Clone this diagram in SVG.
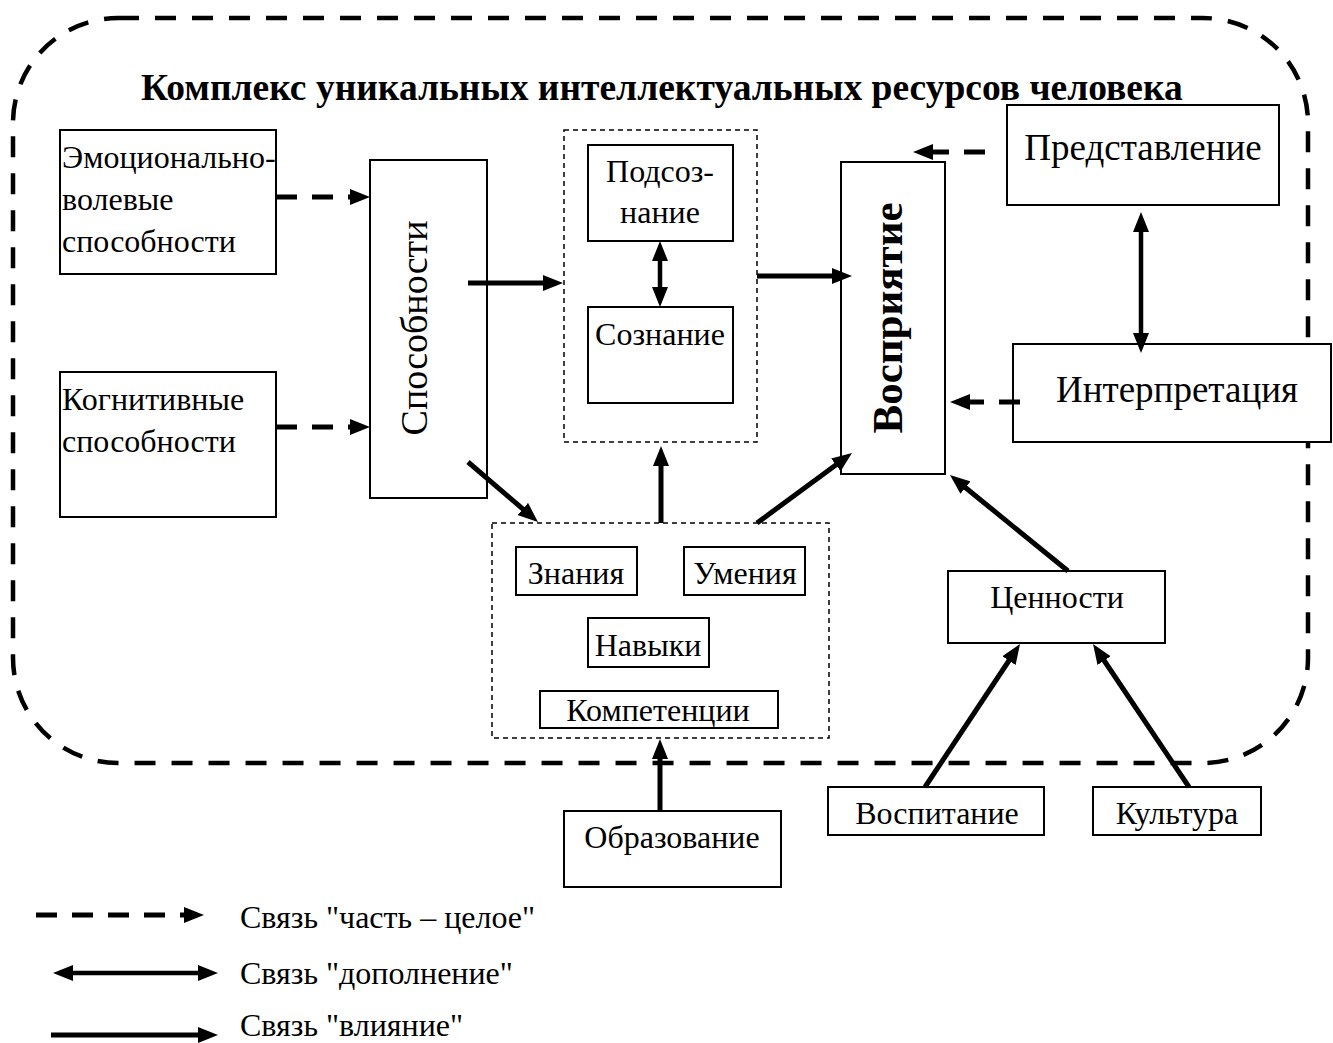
<svg xmlns="http://www.w3.org/2000/svg" width="1333" height="1043" viewBox="0 0 1333 1043">
<style>
  text { font-family: "Liberation Serif", "Times New Roman", serif; fill: #000; }
  .t { font-size: 32px; }
  .tc { font-size: 32px; text-anchor: middle; }
  .tb { font-size: 37px; text-anchor: middle; }
  .box { fill: #fff; stroke: #000; stroke-width: 2; }
  .grp { fill: none; stroke: #000; stroke-width: 1.5; stroke-dasharray: 5 4; }
  .border { fill: none; stroke: #000; stroke-width: 4.5; stroke-dasharray: 21 16; }
  .sol { fill: none; stroke: #000; stroke-width: 5; marker-end: url(#ah); }
  .dsh { fill: none; stroke: #000; stroke-width: 5; stroke-dasharray: 21 15; marker-end: url(#ah); }
  .dbl { fill: none; stroke: #000; stroke-width: 4.5; marker-start: url(#ah); marker-end: url(#ah); }
</style>
<defs>
  <marker id="ah" viewBox="0 0 20 16" refX="5" refY="8" markerWidth="20" markerHeight="16" markerUnits="userSpaceOnUse" orient="auto-start-reverse">
    <path d="M0,0 L20,8 L0,16 Z" fill="#000"/>
  </marker>
</defs>
<rect width="1333" height="1043" fill="#fff"/>

<g id="border">
  <rect class="border" x="13" y="18" width="1295" height="745" rx="105" ry="105"/>
</g>

<g id="title">
  <text x="141" y="100" style="font-size:37.5px;font-weight:bold">Комплекс уникальных интеллектуальных ресурсов человека</text>
</g>

<g id="emo">
  <rect class="box" x="60" y="130" width="216" height="144"/>
  <text class="t" x="62" y="168">Эмоционально-</text>
  <text class="t" x="62" y="210">волевые</text>
  <text class="t" x="62" y="252">способности</text>
</g>

<g id="kog">
  <rect class="box" x="60" y="372" width="216" height="145"/>
  <text class="t" x="62" y="410">Когнитивные</text>
  <text class="t" x="62" y="452">способности</text>
</g>

<g id="sposobnosti">
  <rect class="box" x="370" y="160" width="117" height="338"/>
  <text transform="translate(427,328) rotate(-90)" text-anchor="middle" style="font-size:38px">Способности</text>
</g>

<g id="soznanie-group">
  <rect class="grp" x="564" y="130" width="193" height="312"/>
</g>
<g id="podsoznanie">
  <rect class="box" x="588" y="145" width="145" height="96"/>
  <text class="tc" x="660" y="182">Подсоз-</text>
  <text class="tc" x="660" y="223">нание</text>
</g>
<g id="soznanie">
  <rect class="box" x="588" y="307" width="145" height="96"/>
  <text class="tc" x="660" y="345">Сознание</text>
</g>

<g id="vospriyatie">
  <rect class="box" x="841" y="162" width="104" height="312"/>
  <text transform="translate(902,318) rotate(-90)" text-anchor="middle" style="font-size:43px;font-weight:bold">Восприятие</text>
</g>

<g id="predstavlenie">
  <rect class="box" x="1007" y="105" width="272" height="100"/>
  <text class="tb" x="1143" y="160">Представление</text>
</g>

<g id="interpretaciya">
  <rect class="box" x="1013" y="344" width="318" height="98"/>
  <text class="tb" x="1177" y="402">Интерпретация</text>
</g>

<g id="znaniya-group">
  <rect class="grp" x="492" y="523" width="337" height="215"/>
</g>
<g id="znaniya">
  <rect class="box" x="516" y="547" width="121" height="48"/>
  <text class="tc" x="576" y="584">Знания</text>
</g>
<g id="umeniya">
  <rect class="box" x="684" y="547" width="121" height="48"/>
  <text class="tc" x="745" y="584">Умения</text>
</g>
<g id="navyki">
  <rect class="box" x="588" y="618" width="121" height="49"/>
  <text class="tc" x="648" y="656">Навыки</text>
</g>
<g id="kompetencii">
  <rect class="box" x="540" y="691" width="238" height="37"/>
  <text class="tc" x="658" y="721">Компетенции</text>
</g>

<g id="cennosti">
  <rect class="box" x="948" y="571" width="217" height="72"/>
  <text class="tc" x="1057" y="608">Ценности</text>
</g>

<g id="obrazovanie">
  <rect class="box" x="564" y="811" width="217" height="76"/>
  <text class="tc" x="672" y="848">Образование</text>
</g>

<g id="vospitanie">
  <rect class="box" x="828" y="787" width="216" height="48"/>
  <text class="tc" x="937" y="824">Воспитание</text>
</g>

<g id="kultura">
  <rect class="box" x="1093" y="787" width="168" height="48"/>
  <text class="tc" x="1177" y="824">Культура</text>
</g>

<g id="connectors">
  <path class="dsh" d="M276,197 L355,197"/>
  <path class="dsh" d="M276,427 L355,427"/>
  <path class="sol" d="M468,283 L548,283"/>
  <path class="sol" d="M468,462 L526.6,512.2"/>
  <path class="sol" d="M661,523 L661,461"/>
  <path class="sol" d="M757,523 L839.9,461.9"/>
  <path class="sol" d="M757,276 L837,276"/>
  <path class="dbl" d="M660,256 L660,292"/>
  <path class="dsh" d="M985,152 L928,152"/>
  <path class="dbl" d="M1141,227 L1141,338"/>
  <path class="dsh" d="M1020,402 L965,402"/>
  <path class="sol" d="M1068,571 L961.6,484.5"/>
  <path class="sol" d="M925,787 L1011.7,656.5"/>
  <path class="sol" d="M1189,787 L1101.4,656.5"/>
  <path class="sol" d="M660,811 L660,754"/>
</g>

<g id="legend">
  <path class="dsh" d="M36,915 L189,915"/>
  <text class="t" x="240" y="928">Связь "часть – целое"</text>
  <path class="dbl" d="M68,973 L203,973"/>
  <text class="t" x="240" y="984">Связь "дополнение"</text>
  <path class="sol" d="M51,1035 L203,1035"/>
  <text class="t" x="240" y="1036">Связь "влияние"</text>
</g>
</svg>
